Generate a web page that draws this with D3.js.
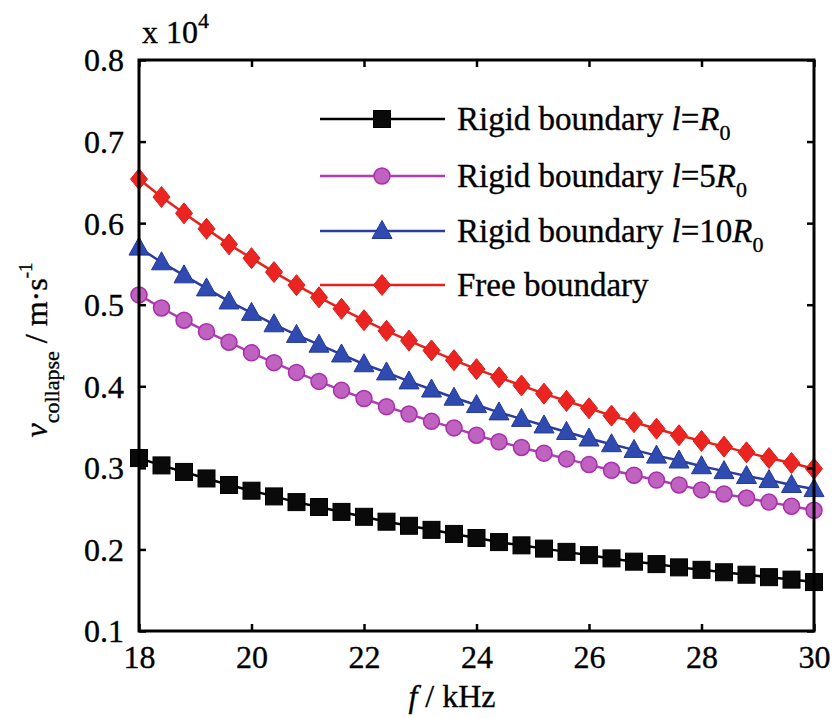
<!DOCTYPE html>
<html>
<head>
<meta charset="utf-8">
<script src="https://cdn.jsdelivr.net/npm/d3@7"></script>
<style>
  html, body { margin: 0; padding: 0; background: #fff; }
  svg { display: block; }
  svg text { stroke: #000; stroke-width: 0.35px; }
</style>
</head>
<body>
<svg id="chart" width="833" height="718" font-family="Liberation Serif"></svg>
<script>
// frequency, kHz
const freq = [18, 18.4, 18.8, 19.2, 19.6, 20, 20.4, 20.8, 21.2, 21.6, 22, 22.4, 22.8, 23.2, 23.6,
  24, 24.4, 24.8, 25.2, 25.6, 26, 26.4, 26.8, 27.2, 27.6, 28, 28.4, 28.8, 29.2, 29.6, 30];

// v_collapse (x 10^4 m/s)
const rigidR0 = [0.312, 0.303, 0.295, 0.287, 0.279, 0.272, 0.265, 0.258, 0.252, 0.246, 0.240,
  0.234, 0.229, 0.224, 0.219, 0.214, 0.209, 0.205, 0.201, 0.197, 0.193, 0.189, 0.185, 0.182,
  0.178, 0.175, 0.172, 0.169, 0.166, 0.163, 0.160];
const rigid5R0 = [0.512, 0.496, 0.481, 0.467, 0.454, 0.441, 0.429, 0.417, 0.406, 0.395, 0.385,
  0.375, 0.366, 0.357, 0.349, 0.340, 0.332, 0.325, 0.318, 0.311, 0.304, 0.297, 0.291, 0.285,
  0.279, 0.273, 0.268, 0.263, 0.258, 0.253, 0.248];
const rigid10R0 = [0.570, 0.552, 0.536, 0.520, 0.504, 0.490, 0.476, 0.463, 0.451, 0.439, 0.427,
  0.417, 0.406, 0.396, 0.386, 0.377, 0.368, 0.360, 0.352, 0.344, 0.336, 0.329, 0.322, 0.315,
  0.309, 0.302, 0.296, 0.290, 0.285, 0.279, 0.274];
const freeBoundary = [0.654, 0.632, 0.612, 0.593, 0.574, 0.557, 0.540, 0.524, 0.509, 0.495, 0.481,
  0.468, 0.456, 0.444, 0.432, 0.421, 0.411, 0.401, 0.391, 0.382, 0.373, 0.364, 0.356, 0.348,
  0.340, 0.333, 0.326, 0.319, 0.312, 0.306, 0.299];

const xTicks = [18, 20, 22, 24, 26, 28, 30];
const yTicks = [0.1, 0.2, 0.3, 0.4, 0.5, 0.6, 0.7, 0.8];

const series = [
  { values: rigidR0, label: 'Rigid boundary ', sym: 'l=', tail: 'R', sub: '0', shape: 'square',
    line: '#000000', fill: '#0a0a0a', stroke: '#000000' },
  { values: rigid5R0, label: 'Rigid boundary ', sym: 'l=5', tail: 'R', sub: '0', shape: 'circle',
    line: '#b03cb4', fill: '#c062c0', stroke: '#a82eab' },
  { values: rigid10R0, label: 'Rigid boundary ', sym: 'l=10', tail: 'R', sub: '0', shape: 'triangle',
    line: '#2b3d9e', fill: '#2f4bb0', stroke: '#24389a' },
  { values: freeBoundary, label: 'Free boundary', shape: 'diamond',
    line: '#e8211d', fill: '#ea2420', stroke: '#e01d19' },
];

const FONT = 'Liberation Serif';
const svg = d3.select('#chart');
const m = { left: 139, right: 814, top: 60, bottom: 631 };

const x = d3.scaleLinear().domain([18, 30]).range([m.left, m.right]);
const y = d3.scaleLinear().domain([0.1, 0.8]).range([m.bottom, m.top]);

// ─── Markers ──────────────────────────────────────────────────────────────────

function drawMarker(g, shape, cx, cy, s) {
  if (shape === 'square') {
    g.append('rect').attr('x', cx - 8.5).attr('y', cy - 8.5).attr('width', 17).attr('height', 17)
      .attr('fill', s.fill).attr('stroke', s.stroke).attr('stroke-width', 1);
  } else if (shape === 'circle') {
    g.append('circle').attr('cx', cx).attr('cy', cy).attr('r', 8)
      .attr('fill', s.fill).attr('stroke', s.stroke).attr('stroke-width', 1.5);
  } else if (shape === 'triangle') {
    g.append('path').attr('d', `M${cx},${cy - 10.5}L${cx + 10},${cy + 7.5}L${cx - 10},${cy + 7.5}Z`)
      .attr('fill', s.fill).attr('stroke', s.stroke).attr('stroke-width', 1);
  } else {
    g.append('path').attr('d', `M${cx},${cy - 10.5}L${cx + 8.5},${cy}L${cx},${cy + 10.5}L${cx - 8.5},${cy}Z`)
      .attr('fill', s.fill).attr('stroke', s.stroke).attr('stroke-width', 1);
  }
}

// ─── Series ───────────────────────────────────────────────────────────────────

const line = d3.line().x(d => x(d[0])).y(d => y(d[1]));
const plot = svg.append('g');

series.forEach(s => {
  const pts = freq.map((f, i) => [f, s.values[i]]);
  plot.append('path').attr('d', line(pts))
    .attr('fill', 'none').attr('stroke', s.line).attr('stroke-width', 2.5);
  const mg = plot.append('g');
  pts.forEach(p => drawMarker(mg, s.shape, x(p[0]), y(p[1]), s));
});

// ─── Axes ─────────────────────────────────────────────────────────────────────

const xAxis = svg.append('g').attr('transform', `translate(0,${m.bottom})`)
  .call(d3.axisBottom(x).tickValues(xTicks).tickSize(-7).tickSizeOuter(0).tickPadding(14));
const xTop = svg.append('g').attr('transform', `translate(0,${m.top})`)
  .call(d3.axisTop(x).tickValues(xTicks).tickSize(-7).tickSizeOuter(0).tickFormat(''));
const yAxis = svg.append('g').attr('transform', `translate(${m.left},0)`)
  .call(d3.axisLeft(y).tickValues(yTicks).tickSize(-7).tickSizeOuter(0).tickPadding(15)
    .tickFormat(d3.format('.1f')));
const yRight = svg.append('g').attr('transform', `translate(${m.right},0)`)
  .call(d3.axisRight(y).tickValues(yTicks).tickSize(-7).tickSizeOuter(0).tickFormat(''));

[xAxis, xTop, yAxis, yRight].forEach(a => {
  a.attr('font-family', FONT).attr('font-size', 32);
  a.select('.domain').remove();
  a.selectAll('.tick line').attr('stroke', '#000').attr('stroke-width', 2.5);
  a.selectAll('.tick text').attr('fill', '#000');
});
xAxis.selectAll('.tick text').attr('dy', '0.72em');
yAxis.selectAll('.tick text').attr('dy', '0.34em');

svg.append('rect')
  .attr('x', m.left).attr('y', m.top)
  .attr('width', m.right - m.left).attr('height', m.bottom - m.top)
  .attr('fill', 'none').attr('stroke', '#000').attr('stroke-width', 3);

// x 10^4
const mult = svg.append('text').attr('x', 142).attr('y', 43).attr('font-size', 32).attr('fill', '#000');
mult.append('tspan').text('x 10');
mult.append('tspan').attr('font-size', 22).attr('dy', -15).text('4');

// ─── Axis titles ──────────────────────────────────────────────────────────────

const xt = svg.append('text').attr('x', 452).attr('y', 707).attr('text-anchor', 'middle')
  .attr('font-size', 32).attr('fill', '#000');
xt.append('tspan').attr('font-style', 'italic').text('f');
xt.append('tspan').text(' / kHz');

const yt = svg.append('text').attr('transform', 'translate(47,350) rotate(-90)')
  .attr('text-anchor', 'middle').attr('font-size', 32).attr('fill', '#000');
yt.append('tspan').attr('font-style', 'italic').text('v');
yt.append('tspan').attr('font-size', 22).attr('dy', 12).text('collapse');
yt.append('tspan').attr('dy', -12).text(' / m·s');
yt.append('tspan').attr('font-size', 19).attr('dy', -15).text('-1');

// ─── Legend ───────────────────────────────────────────────────────────────────

const legendY = [119, 176, 231, 285];
const legend = svg.append('g');
series.forEach((s, i) => {
  const ly = legendY[i];
  legend.append('line').attr('x1', 320).attr('x2', 445).attr('y1', ly).attr('y2', ly)
    .attr('stroke', s.line).attr('stroke-width', 2.5);
  drawMarker(legend, s.shape, 382, ly, s);
  const t = legend.append('text').attr('x', 457).attr('y', ly + 11)
    .attr('font-size', 33).attr('fill', '#000');
  t.append('tspan').text(s.label);
  if (s.sym) {
    t.append('tspan').attr('font-style', 'italic').text('l');
    t.append('tspan').text(s.sym.slice(1));
    t.append('tspan').attr('font-style', 'italic').text(s.tail);
    t.append('tspan').attr('font-size', 22).attr('dy', 10).text(s.sub);
  }
});
</script>
</body>
</html>
